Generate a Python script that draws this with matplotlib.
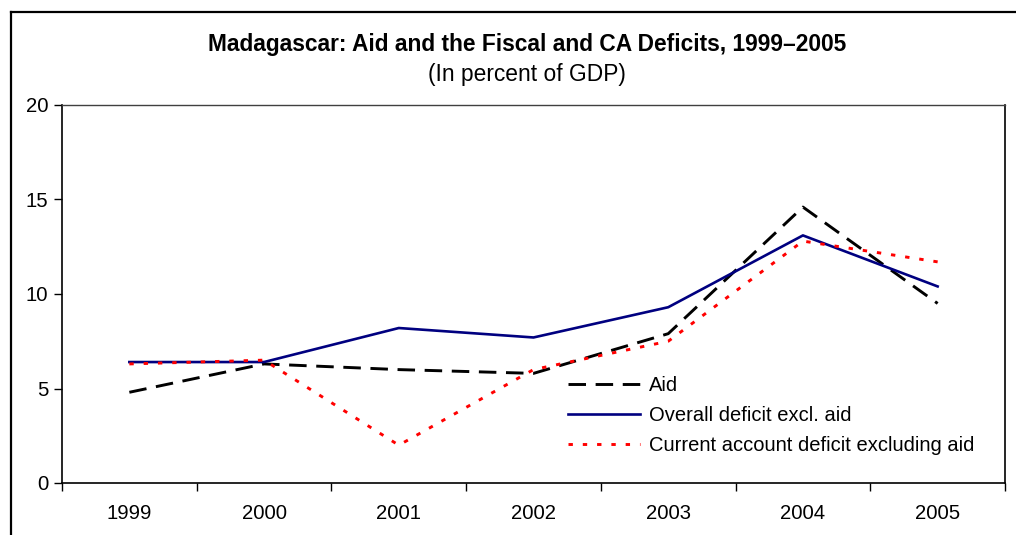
import matplotlib
matplotlib.use("Agg")
import matplotlib.pyplot as plt
from matplotlib.lines import Line2D
from matplotlib.ticker import FixedLocator, NullFormatter

plt.rcParams["font.family"] = ["Liberation Sans", "DejaVu Sans"]

YEARS = ["1999", "2000", "2001", "2002", "2003", "2004", "2005"]
AID = [4.8, 6.3, 6.0, 5.8, 7.9, 14.6, 9.5]
OVERALL_DEFICIT = [6.4, 6.4, 8.2, 7.7, 9.3, 13.1, 10.4]
CA_DEFICIT = [6.3, 6.5, 2.0, 6.0, 7.5, 12.8, 11.7]

W, H = 1016, 535
fig = plt.figure(figsize=(W / 100, H / 100), dpi=100)
ax = fig.add_axes([62 / W, 1 - 483 / H, (1005 - 62) / W, (483 - 105) / H])

x = list(range(len(YEARS)))
ax.plot(x, AID, color="black", lw=2.1, dashes=(6.0, 3.3), label="Aid")
ax.plot(x, OVERALL_DEFICIT, color="#000080", lw=1.9, label="Overall deficit excl. aid")
ax.plot(x, CA_DEFICIT, color="#ff0000", lw=2.1, dashes=(1.5, 3.4),
        label="Current account deficit excluding aid")

ax.set_xlim(-0.5, len(YEARS) - 0.5)
ax.set_ylim(0, 20)
ax.set_yticks([0, 5, 10, 15, 20])

# category boundaries get the tick marks, labels sit in the middle
ax.xaxis.set_major_locator(FixedLocator([i - 0.5 for i in range(len(YEARS) + 1)]))
ax.xaxis.set_major_formatter(NullFormatter())
ax.xaxis.set_minor_locator(FixedLocator(x))
ax.set_xticklabels(YEARS, minor=True)
ax.tick_params(axis="x", which="major", length=6, width=1, direction="out")
ax.tick_params(axis="x", which="minor", length=0, pad=15, labelsize=14.6)
ax.tick_params(axis="y", length=6, width=1, direction="out", pad=4, labelsize=14.6)

for side in ["left", "bottom", "right"]:
    ax.spines[side].set_color("black")
    ax.spines[side].set_linewidth(1.2)
ax.spines["top"].set_color("#404040")
ax.spines["top"].set_linewidth(1.0)

ax.legend(loc="upper left", bbox_to_anchor=(0.528, 0.305), frameon=False,
          fontsize=14.5, handlelength=3.6, handletextpad=0.4, labelspacing=0.56,
          borderaxespad=0)

title_x = 527 / W
fig.text(title_x, 1 - 45 / H, "Madagascar: Aid and the Fiscal and CA Deficits, 1999\u20132005",
         ha="center", va="center", fontsize=16.4, fontweight="bold")
fig.text(title_x, 1 - 75 / H, "(In percent of GDP)", ha="center", va="center", fontsize=16.4)

# outer frame, only top and left edges fall inside the image
fig.add_artist(Line2D([11 / W, 11 / W], [0, 1 - 12 / H], color="black", lw=1.6,
                      transform=fig.transFigure))
fig.add_artist(Line2D([11 / W, 1], [1 - 12 / H, 1 - 12 / H], color="black", lw=1.6,
                      transform=fig.transFigure))

fig.savefig("out.png", dpi=100)
